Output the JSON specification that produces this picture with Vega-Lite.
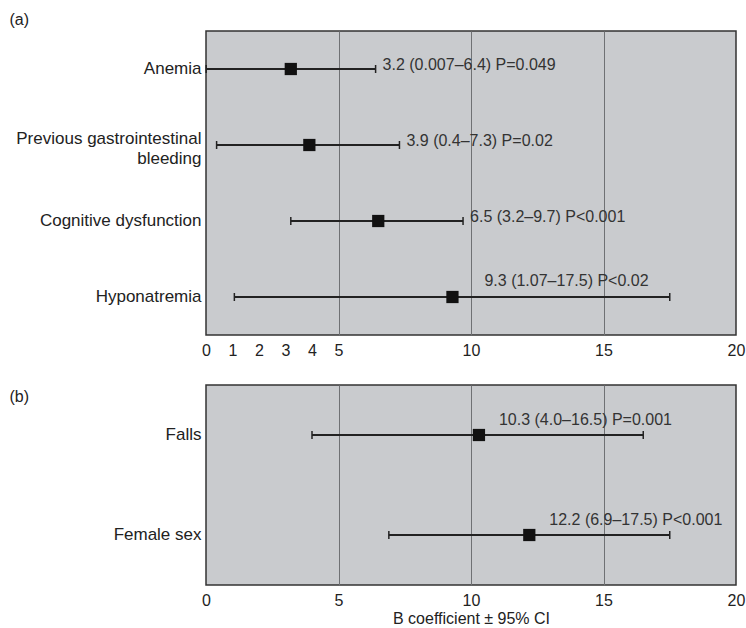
{
  "$schema": "https://vega.github.io/schema/vega-lite/v6.json",
  "autosize": {"type": "pad"},
  "padding": {"left": 8, "top": 10, "right": 0, "bottom": 4},
  "background": "white",
  "spacing": 25,
  "config": {
    "font": "Liberation Sans",
    "view": {"fill": "#c9cbce", "stroke": "#333333", "strokeWidth": 1.5},
    "axis": {
      "labelFont": "Liberation Sans",
      "titleFont": "Liberation Sans",
      "labelColor": "#222222",
      "titleColor": "#222222",
      "titleFontWeight": "normal",
      "ticks": false,
      "domain": false
    },
    "axisX": {
      "labelFontSize": 16,
      "labelPadding": 7,
      "labelFlush": false,
      "labelOverlap": false,
      "grid": true,
      "gridWidth": 1,
      "titleFontSize": 16,
      "titlePadding": 2
    },
    "axisY": {
      "grid": false,
      "labelFontSize": 17,
      "labelPadding": 5,
      "labelLimit": 320,
      "labelLineHeight": 20,
      "titleAngle": 0,
      "titleAlign": "left",
      "titleBaseline": "middle",
      "titleFontSize": 16,
      "titleX": -197
    }
  },
  "datasets": {
    "forest": [
      {"panel": "a", "factor": "Anemia", "est": 3.2, "lo": 0.007, "hi": 6.4, "label": "3.2 (0.007–6.4) P=0.049"},
      {"panel": "a", "factor": "Previous gastrointestinal bleeding", "est": 3.9, "lo": 0.4, "hi": 7.3, "label": "3.9 (0.4–7.3) P=0.02"},
      {"panel": "a", "factor": "Cognitive dysfunction", "est": 6.5, "lo": 3.2, "hi": 9.7, "label": "6.5 (3.2–9.7) P<0.001"},
      {"panel": "a", "factor": "Hyponatremia", "est": 9.3, "lo": 1.07, "hi": 17.5, "label": "9.3 (1.07–17.5) P<0.02"},
      {"panel": "b", "factor": "Falls", "est": 10.3, "lo": 4.0, "hi": 16.5, "label": "10.3 (4.0–16.5) P=0.001"},
      {"panel": "b", "factor": "Female sex", "est": 12.2, "lo": 6.9, "hi": 17.5, "label": "12.2 (6.9–17.5) P<0.001"}
    ]
  },
  "vconcat": [
    {
      "width": 530,
      "height": 304,
      "data": {"name": "forest"},
      "transform": [{"filter": "datum.panel == 'a'"}],
      "encoding": {
        "y": {
          "field": "factor",
          "type": "nominal",
          "sort": null,
          "scale": {"type": "band", "paddingInner": 0, "paddingOuter": 0},
          "axis": {
            "title": "(a)",
            "titleY": -12,
            "labelExpr": "datum.value == 'Previous gastrointestinal bleeding' ? ['Previous gastrointestinal', 'bleeding'] : datum.label",
            "labelOffset": {
              "condition": {"test": "datum.value == 'Previous gastrointestinal bleeding'", "value": -6},
              "value": 0
            }
          }
        }
      },
      "layer": [
        {
          "mark": {"type": "rule", "color": "#222222", "strokeWidth": 2},
          "encoding": {
            "x": {
              "field": "lo",
              "type": "quantitative",
              "title": null,
              "scale": {"domain": [0, 20], "nice": false, "zero": false},
              "axis": {
                "values": [0, 1, 2, 3, 4, 5, 10, 15, 20],
                "gridColor": {
                  "condition": {"test": "datum.value == 5 || datum.value == 10 || datum.value == 15", "value": "#6f7174"},
                  "value": "transparent"
                }
              }
            },
            "x2": {"field": "hi"}
          }
        },
        {
          "mark": {"type": "tick", "color": "#222222", "size": 8, "thickness": 1.5, "opacity": 1},
          "encoding": {"x": {"field": "lo", "type": "quantitative", "title": null}}
        },
        {
          "mark": {"type": "tick", "color": "#222222", "size": 8, "thickness": 1.5, "opacity": 1},
          "encoding": {"x": {"field": "hi", "type": "quantitative", "title": null}}
        },
        {
          "mark": {"type": "point", "shape": "square", "filled": true, "size": 150, "color": "#111111", "opacity": 1},
          "encoding": {"x": {"field": "est", "type": "quantitative", "title": null}}
        },
        {
          "transform": [{"filter": "datum.factor != 'Hyponatremia'"}],
          "mark": {"type": "text", "align": "left", "baseline": "middle", "dx": 7, "dy": -4, "fontSize": 16, "color": "#333333"},
          "encoding": {
            "x": {"field": "hi", "type": "quantitative", "title": null},
            "text": {"field": "label"}
          }
        },
        {
          "transform": [{"filter": "datum.factor == 'Hyponatremia'"}],
          "mark": {"type": "text", "align": "left", "baseline": "middle", "dx": 32, "dy": -16, "fontSize": 16, "color": "#333333"},
          "encoding": {
            "x": {"field": "est", "type": "quantitative", "title": null},
            "text": {"field": "label"}
          }
        }
      ]
    },
    {
      "width": 530,
      "height": 200,
      "data": {"name": "forest"},
      "transform": [{"filter": "datum.panel == 'b'"}],
      "encoding": {
        "y": {
          "field": "factor",
          "type": "nominal",
          "sort": null,
          "scale": {"type": "band", "paddingInner": 0, "paddingOuter": 0},
          "axis": {"title": "(b)", "titleY": 11}
        }
      },
      "layer": [
        {
          "mark": {"type": "rule", "color": "#222222", "strokeWidth": 2},
          "encoding": {
            "x": {
              "field": "lo",
              "type": "quantitative",
              "title": "B coefficient ± 95% CI",
              "scale": {"domain": [0, 20], "nice": false, "zero": false},
              "axis": {
                "values": [0, 5, 10, 15, 20],
                "gridColor": {
                  "condition": {"test": "datum.value == 5 || datum.value == 10 || datum.value == 15", "value": "#6f7174"},
                  "value": "transparent"
                }
              }
            },
            "x2": {"field": "hi"}
          }
        },
        {
          "mark": {"type": "tick", "color": "#222222", "size": 8, "thickness": 1.5, "opacity": 1},
          "encoding": {"x": {"field": "lo", "type": "quantitative", "title": "B coefficient ± 95% CI"}}
        },
        {
          "mark": {"type": "tick", "color": "#222222", "size": 8, "thickness": 1.5, "opacity": 1},
          "encoding": {"x": {"field": "hi", "type": "quantitative", "title": "B coefficient ± 95% CI"}}
        },
        {
          "mark": {"type": "point", "shape": "square", "filled": true, "size": 150, "color": "#111111", "opacity": 1},
          "encoding": {"x": {"field": "est", "type": "quantitative", "title": "B coefficient ± 95% CI"}}
        },
        {
          "mark": {"type": "text", "align": "left", "baseline": "middle", "dx": 20, "dy": -15, "fontSize": 16, "color": "#333333"},
          "encoding": {
            "x": {"field": "est", "type": "quantitative", "title": "B coefficient ± 95% CI"},
            "text": {"field": "label"}
          }
        }
      ]
    }
  ]
}
